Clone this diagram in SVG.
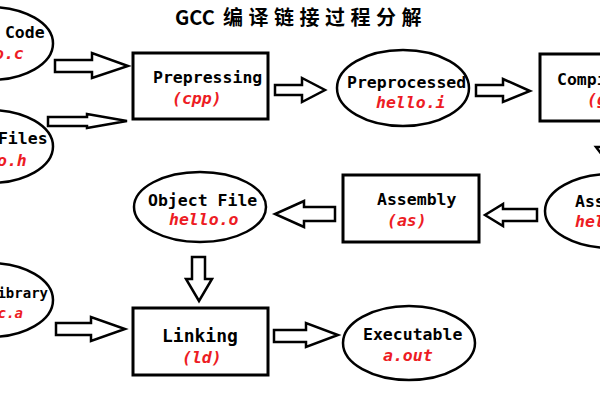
<svg xmlns="http://www.w3.org/2000/svg" width="600" height="400" viewBox="0 0 600 400">
<style>
.box{fill:#fff;stroke:#000;stroke-width:3}
.ell{fill:#fff;stroke:#000;stroke-width:2.5}
.arrow{fill:#fff;stroke:#000;stroke-width:2.5;stroke-linejoin:miter}
.t{font-family:"DejaVu Sans Mono","Liberation Mono",monospace;font-weight:bold;font-size:16.5px;fill:#000}
.r{font-family:"DejaVu Sans Mono","Liberation Mono",monospace;font-weight:bold;font-style:italic;font-size:16.5px;fill:#ed1c24}
.title{font-family:"Noto Sans CJK SC","Noto Sans",sans-serif;font-weight:bold;font-size:20px;fill:#000}
</style>
<rect width="600" height="400" fill="#fff"/>
<text class="title" x="175" y="25">GCC<tspan x="223" letter-spacing="5.5">编译链接过程分解</tspan></text>

<g id="connectors">
<polygon class="arrow" points="55,60 92,60 92,53 128,66 92,78 92,72 55,72"/>
<polygon class="arrow" points="48,117 87,117 87,114 127,121 87,128 87,126 48,126"/>
<polygon class="arrow" points="275,85 302,85 302,78 325,90 302,102 302,95 275,95"/>
<polygon class="arrow" points="476,85 503,85 503,79 530,91 503,102 503,96 476,96"/>
<polygon class="arrow" points="605,120 625,120 625,147 634,147 615,172 596,147 605,147"/>
<polygon class="arrow" points="537,209 503,209 503,204 485,215 503,226 503,221 537,221"/>
<polygon class="arrow" points="335,207 304,207 304,201 275,214 304,227 304,221 335,221"/>
<polygon class="arrow" points="192,257 205,257 205,279 212,279 199,301 186,279 192,279"/>
<polygon class="arrow" points="56,323 91,323 91,317 125,329 91,341 91,335 56,335"/>
<polygon class="arrow" points="274,330 306,330 306,323 338,335 306,347 306,342 274,342"/>
</g>

<g id="source">
<ellipse class="ell" cx="-10" cy="43.5" rx="63" ry="36.5"/>
<text class="t" x="-10" y="38" text-anchor="middle">Source Code</text>
<text class="r" x="-11" y="59" text-anchor="middle">hello.c</text>
</g>

<g id="header">
<ellipse class="ell" cx="-10" cy="146.5" rx="63" ry="36.5"/>
<text class="t" x="-12" y="144" text-anchor="middle">Header Files</text>
<text class="r" x="-8" y="166" text-anchor="middle">hello.h</text>
</g>

<g id="prepressing">
<rect class="box" x="133" y="53" width="135" height="66"/>
<text class="t" x="153" y="83">Prepressing</text>
<text class="r" x="172" y="104">(cpp)</text>
</g>

<g id="preprocessed">
<ellipse class="ell" cx="403" cy="88" rx="66" ry="38"/>
<text class="t" x="347" y="88">Preprocessed</text>
<text class="r" x="376" y="108">hello.i</text>
</g>

<g id="compiling">
<rect class="box" x="540" y="54" width="140" height="67"/>
<text class="t" x="557" y="85">Compiling</text>
<text class="r" x="587" y="105">(gcc)</text>
</g>

<g id="assemblyfile">
<ellipse class="ell" cx="611" cy="211" rx="66" ry="37"/>
<text class="t" x="575" y="207">Assembly</text>
<text class="r" x="575" y="227">hello.s</text>
</g>

<g id="assembly">
<rect class="box" x="343" y="175" width="136" height="67"/>
<text class="t" x="377" y="205">Assembly</text>
<text class="r" x="387" y="226">(as)</text>
</g>

<g id="objectfile">
<ellipse class="ell" cx="200" cy="207" rx="66" ry="35"/>
<text class="t" x="148" y="206">Object File</text>
<text class="r" x="169" y="225">hello.o</text>
</g>

<g id="library">
<ellipse class="ell" cx="-10" cy="300" rx="63" ry="37"/>
<text class="t" x="48" y="298" text-anchor="end" style="font-size:14px">Static Library</text>
<text class="r" x="23" y="318" text-anchor="end" style="font-size:14px">libc.a</text>
</g>

<g id="linking">
<rect class="box" x="133" y="308" width="135" height="67"/>
<text class="t" x="162" y="342" style="font-size:18px">Linking</text>
<text class="r" x="182" y="363">(ld)</text>
</g>

<g id="executable">
<ellipse class="ell" cx="409" cy="343" rx="66" ry="37"/>
<text class="t" x="363" y="340">Executable</text>
<text class="r" x="383" y="361">a.out</text>
</g>
</svg>
